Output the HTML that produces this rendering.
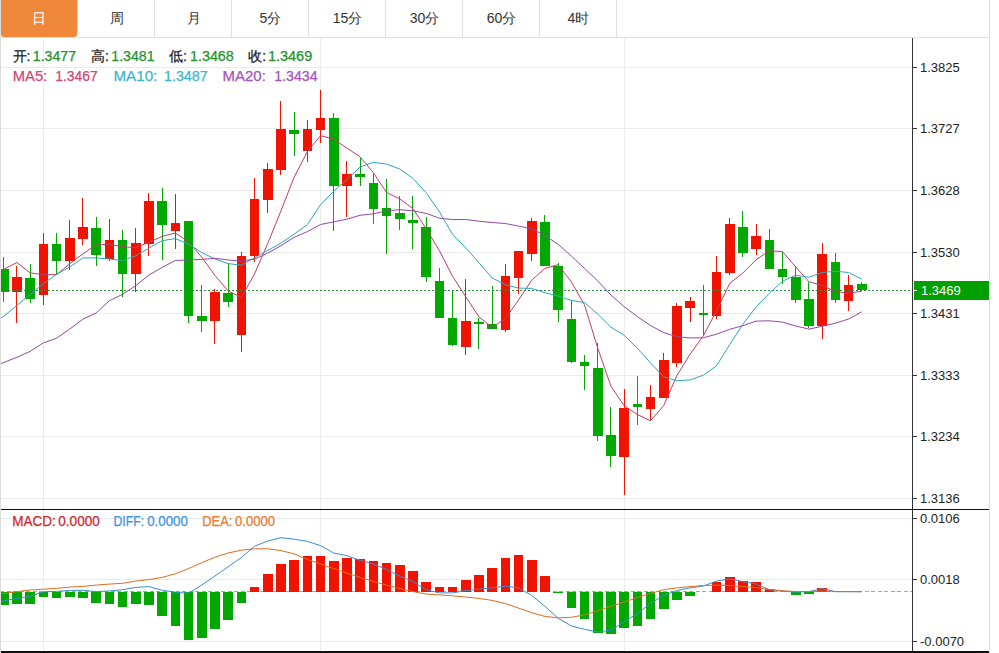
<!DOCTYPE html>
<html><head><meta charset="utf-8"><style>
html,body{margin:0;padding:0;background:#fff;}
#root{position:relative;width:999px;height:653px;overflow:hidden;background:#fff;font-family:"Liberation Sans",sans-serif;}
.tab{position:absolute;top:0;width:77px;height:37px;line-height:37px;text-align:center;font-size:14px;color:#333;}
.tab.act{background:#f0883b;color:#fff;width:76px;border-radius:0 0 3px 3px;}
.sep{position:absolute;top:0;width:1px;height:37px;background:#e0e0e0;}
.hline{position:absolute;left:0;top:37px;width:989px;height:1px;background:#e0e0e0;}
.lb{position:absolute;left:0;top:0;width:1px;height:653px;background:#dcdcdc;}
.rb{position:absolute;left:989px;top:0;width:1px;height:653px;background:#dcdcdc;}
.t{position:absolute;font-size:14px;white-space:nowrap;line-height:16px;}
</style></head><body><div id="root">
<svg width="999" height="653" viewBox="0 0 999 653" style="position:absolute;left:0;top:0" shape-rendering="crispEdges"><line x1="1" y1="67.5" x2="912" y2="67.5" stroke="#ebebeb" stroke-width="1"/><line x1="1" y1="128.5" x2="912" y2="128.5" stroke="#ebebeb" stroke-width="1"/><line x1="1" y1="190.5" x2="912" y2="190.5" stroke="#ebebeb" stroke-width="1"/><line x1="1" y1="252.5" x2="912" y2="252.5" stroke="#ebebeb" stroke-width="1"/><line x1="1" y1="313.5" x2="912" y2="313.5" stroke="#ebebeb" stroke-width="1"/><line x1="1" y1="375.5" x2="912" y2="375.5" stroke="#ebebeb" stroke-width="1"/><line x1="1" y1="436.5" x2="912" y2="436.5" stroke="#ebebeb" stroke-width="1"/><line x1="1" y1="498.5" x2="912" y2="498.5" stroke="#ebebeb" stroke-width="1"/><line x1="1" y1="518.5" x2="912" y2="518.5" stroke="#e3ecf3" stroke-width="1"/><line x1="1" y1="579.5" x2="912" y2="579.5" stroke="#e3ecf3" stroke-width="1"/><line x1="1" y1="641.5" x2="912" y2="641.5" stroke="#e3ecf3" stroke-width="1"/><line x1="43.5" y1="38" x2="43.5" y2="509" stroke="#ebebeb" stroke-width="1"/><line x1="43.5" y1="510" x2="43.5" y2="652" stroke="#e8ecef" stroke-width="1"/><line x1="320.5" y1="38" x2="320.5" y2="509" stroke="#ebebeb" stroke-width="1"/><line x1="320.5" y1="510" x2="320.5" y2="652" stroke="#e8ecef" stroke-width="1"/><line x1="624.5" y1="38" x2="624.5" y2="509" stroke="#ebebeb" stroke-width="1"/><line x1="624.5" y1="510" x2="624.5" y2="652" stroke="#e8ecef" stroke-width="1"/><rect x="3.2" y="256.5" width="1" height="45.1" fill="#00a800"/><rect x="-1.1" y="269.0" width="9.6" height="22.7" fill="#00a800"/><rect x="16.4" y="266.0" width="1" height="57.0" fill="#f01400"/><rect x="12.1" y="276.9" width="9.6" height="15.1" fill="#f01400"/><rect x="29.6" y="264.0" width="1" height="38.7" fill="#00a800"/><rect x="25.3" y="278.0" width="9.6" height="21.4" fill="#00a800"/><rect x="42.8" y="233.0" width="1" height="71.8" fill="#f01400"/><rect x="38.5" y="244.0" width="9.6" height="51.0" fill="#f01400"/><rect x="56.0" y="233.2" width="1" height="41.4" fill="#00a800"/><rect x="51.7" y="244.2" width="9.6" height="16.7" fill="#00a800"/><rect x="69.2" y="220.4" width="1" height="49.1" fill="#f01400"/><rect x="64.9" y="238.1" width="9.6" height="23.3" fill="#f01400"/><rect x="82.4" y="197.6" width="1" height="47.4" fill="#f01400"/><rect x="78.1" y="227.3" width="9.6" height="11.5" fill="#f01400"/><rect x="95.6" y="217.3" width="1" height="48.5" fill="#00a800"/><rect x="91.3" y="227.8" width="9.6" height="27.0" fill="#00a800"/><rect x="108.8" y="219.2" width="1" height="41.7" fill="#f01400"/><rect x="104.5" y="239.8" width="9.6" height="19.1" fill="#f01400"/><rect x="122.0" y="230.2" width="1" height="67.0" fill="#00a800"/><rect x="117.7" y="240.0" width="9.6" height="33.6" fill="#00a800"/><rect x="135.2" y="228.3" width="1" height="64.0" fill="#f01400"/><rect x="130.9" y="243.0" width="9.6" height="30.6" fill="#f01400"/><rect x="148.4" y="193.3" width="1" height="62.5" fill="#f01400"/><rect x="144.1" y="200.5" width="9.6" height="43.1" fill="#f01400"/><rect x="161.6" y="188.0" width="1" height="71.6" fill="#00a800"/><rect x="157.3" y="200.8" width="9.6" height="24.5" fill="#00a800"/><rect x="174.8" y="193.9" width="1" height="54.7" fill="#f01400"/><rect x="170.5" y="223.0" width="9.6" height="7.5" fill="#f01400"/><rect x="188.0" y="220.9" width="1" height="101.8" fill="#00a800"/><rect x="183.7" y="220.9" width="9.6" height="95.1" fill="#00a800"/><rect x="201.2" y="285.0" width="1" height="47.4" fill="#00a800"/><rect x="196.9" y="315.5" width="9.6" height="5.8" fill="#00a800"/><rect x="214.4" y="289.3" width="1" height="54.7" fill="#f01400"/><rect x="210.1" y="291.6" width="9.6" height="29.1" fill="#f01400"/><rect x="227.6" y="263.1" width="1" height="44.2" fill="#00a800"/><rect x="223.3" y="292.8" width="9.6" height="9.6" fill="#00a800"/><rect x="240.8" y="251.5" width="1" height="100.3" fill="#f01400"/><rect x="236.5" y="255.8" width="9.6" height="79.5" fill="#f01400"/><rect x="254.0" y="177.5" width="1" height="84.3" fill="#f01400"/><rect x="249.7" y="198.7" width="9.6" height="57.3" fill="#f01400"/><rect x="267.2" y="162.9" width="1" height="50.4" fill="#f01400"/><rect x="262.9" y="169.3" width="9.6" height="30.9" fill="#f01400"/><rect x="280.4" y="101.0" width="1" height="74.4" fill="#f01400"/><rect x="276.1" y="128.9" width="9.6" height="41.3" fill="#f01400"/><rect x="293.6" y="112.0" width="1" height="43.6" fill="#00a800"/><rect x="289.3" y="130.0" width="9.6" height="3.5" fill="#00a800"/><rect x="306.8" y="120.2" width="1" height="41.3" fill="#f01400"/><rect x="302.5" y="128.9" width="9.6" height="22.4" fill="#f01400"/><rect x="320.0" y="90.2" width="1" height="52.4" fill="#f01400"/><rect x="315.7" y="117.8" width="9.6" height="12.5" fill="#f01400"/><rect x="333.2" y="112.6" width="1" height="118.1" fill="#00a800"/><rect x="328.9" y="118.4" width="9.6" height="67.7" fill="#00a800"/><rect x="346.4" y="160.5" width="1" height="56.2" fill="#f01400"/><rect x="342.1" y="174.4" width="9.6" height="11.8" fill="#f01400"/><rect x="359.6" y="157.6" width="1" height="28.3" fill="#00a800"/><rect x="355.3" y="174.2" width="9.6" height="2.4" fill="#00a800"/><rect x="372.8" y="173.6" width="1" height="50.1" fill="#00a800"/><rect x="368.5" y="183.0" width="9.6" height="25.6" fill="#00a800"/><rect x="386.0" y="178.9" width="1" height="74.8" fill="#00a800"/><rect x="381.7" y="208.0" width="9.6" height="8.4" fill="#00a800"/><rect x="399.2" y="196.3" width="1" height="34.1" fill="#00a800"/><rect x="394.9" y="212.9" width="9.6" height="5.8" fill="#00a800"/><rect x="412.4" y="195.5" width="1" height="53.8" fill="#00a800"/><rect x="408.1" y="219.6" width="9.6" height="2.9" fill="#00a800"/><rect x="425.6" y="216.7" width="1" height="65.2" fill="#00a800"/><rect x="421.3" y="226.9" width="9.6" height="50.0" fill="#00a800"/><rect x="438.8" y="267.8" width="1" height="50.0" fill="#00a800"/><rect x="434.5" y="280.9" width="9.6" height="36.9" fill="#00a800"/><rect x="452.0" y="290.8" width="1" height="54.7" fill="#00a800"/><rect x="447.7" y="317.8" width="9.6" height="27.1" fill="#00a800"/><rect x="465.2" y="279.1" width="1" height="75.7" fill="#f01400"/><rect x="460.9" y="320.7" width="9.6" height="26.5" fill="#f01400"/><rect x="478.4" y="317.8" width="1" height="31.2" fill="#00a800"/><rect x="474.1" y="321.6" width="9.6" height="2.6" fill="#00a800"/><rect x="491.6" y="286.4" width="1" height="42.2" fill="#00a800"/><rect x="487.3" y="323.7" width="9.6" height="4.9" fill="#00a800"/><rect x="504.8" y="264.0" width="1" height="67.5" fill="#f01400"/><rect x="500.5" y="276.2" width="9.6" height="53.3" fill="#f01400"/><rect x="518.0" y="250.9" width="1" height="42.8" fill="#f01400"/><rect x="513.7" y="250.9" width="9.6" height="27.1" fill="#f01400"/><rect x="531.2" y="218.0" width="1" height="43.1" fill="#f01400"/><rect x="526.9" y="220.9" width="9.6" height="33.5" fill="#f01400"/><rect x="544.4" y="214.5" width="1" height="51.8" fill="#00a800"/><rect x="540.1" y="221.8" width="9.6" height="43.7" fill="#00a800"/><rect x="557.6" y="262.6" width="1" height="59.6" fill="#00a800"/><rect x="553.3" y="265.5" width="9.6" height="44.5" fill="#00a800"/><rect x="570.8" y="300.4" width="1" height="62.6" fill="#00a800"/><rect x="566.5" y="318.7" width="9.6" height="43.7" fill="#00a800"/><rect x="584.0" y="355.4" width="1" height="34.9" fill="#00a800"/><rect x="579.7" y="361.6" width="9.6" height="4.2" fill="#00a800"/><rect x="597.2" y="342.5" width="1" height="98.0" fill="#00a800"/><rect x="592.9" y="367.9" width="9.6" height="68.2" fill="#00a800"/><rect x="610.4" y="406.7" width="1" height="59.8" fill="#00a800"/><rect x="606.1" y="435.3" width="9.6" height="20.8" fill="#00a800"/><rect x="623.6" y="389.3" width="1" height="105.8" fill="#f01400"/><rect x="619.3" y="408.0" width="9.6" height="48.9" fill="#f01400"/><rect x="636.8" y="376.3" width="1" height="48.6" fill="#00a800"/><rect x="632.5" y="404.1" width="9.6" height="2.6" fill="#00a800"/><rect x="650.0" y="385.1" width="1" height="34.6" fill="#f01400"/><rect x="645.7" y="397.1" width="9.6" height="11.4" fill="#f01400"/><rect x="663.2" y="352.9" width="1" height="45.4" fill="#f01400"/><rect x="658.9" y="360.2" width="9.6" height="38.1" fill="#f01400"/><rect x="676.4" y="302.6" width="1" height="64.3" fill="#f01400"/><rect x="672.1" y="305.7" width="9.6" height="57.3" fill="#f01400"/><rect x="689.6" y="296.5" width="1" height="25.4" fill="#f01400"/><rect x="685.3" y="301.1" width="9.6" height="6.7" fill="#f01400"/><rect x="702.8" y="285.1" width="1" height="49.7" fill="#00a800"/><rect x="698.5" y="313.3" width="9.6" height="1.6" fill="#00a800"/><rect x="716.0" y="255.7" width="1" height="63.7" fill="#f01400"/><rect x="711.7" y="272.0" width="9.6" height="43.8" fill="#f01400"/><rect x="729.2" y="217.8" width="1" height="57.2" fill="#f01400"/><rect x="724.9" y="223.9" width="9.6" height="49.0" fill="#f01400"/><rect x="742.4" y="210.7" width="1" height="46.0" fill="#00a800"/><rect x="738.1" y="227.0" width="9.6" height="25.7" fill="#00a800"/><rect x="755.6" y="224.1" width="1" height="30.6" fill="#f01400"/><rect x="751.3" y="235.6" width="9.6" height="13.8" fill="#f01400"/><rect x="768.8" y="229.4" width="1" height="40.0" fill="#00a800"/><rect x="764.5" y="240.2" width="9.6" height="29.2" fill="#00a800"/><rect x="782.0" y="251.7" width="1" height="32.1" fill="#00a800"/><rect x="777.7" y="268.9" width="9.6" height="8.1" fill="#00a800"/><rect x="795.2" y="265.5" width="1" height="37.4" fill="#00a800"/><rect x="790.9" y="277.0" width="9.6" height="22.9" fill="#00a800"/><rect x="808.4" y="281.6" width="1" height="45.9" fill="#00a800"/><rect x="804.1" y="299.2" width="9.6" height="27.2" fill="#00a800"/><rect x="821.6" y="242.5" width="1" height="96.5" fill="#f01400"/><rect x="817.3" y="254.4" width="9.6" height="72.0" fill="#f01400"/><rect x="834.8" y="253.3" width="1" height="50.1" fill="#00a800"/><rect x="830.5" y="262.0" width="9.6" height="38.4" fill="#00a800"/><rect x="848.0" y="274.7" width="1" height="36.7" fill="#f01400"/><rect x="843.7" y="285.0" width="9.6" height="15.6" fill="#f01400"/><rect x="861.2" y="281.6" width="1" height="9.1" fill="#00a800"/><rect x="856.9" y="284.3" width="9.6" height="6.0" fill="#00a800"/><line x1="0" y1="290.5" x2="912" y2="290.5" stroke="#2b8c3a" stroke-width="1" stroke-dasharray="2,2"/><g fill="none" stroke-width="1" shape-rendering="geometricPrecision"><polyline points="-9.5,271.5 3.7,269.4 16.9,262.5 30.1,272.8 43.3,274.7 56.5,274.6 69.7,263.9 82.9,253.9 96.1,245.0 109.3,244.2 122.5,246.7 135.7,247.7 148.9,242.3 162.1,236.4 175.3,233.1 188.5,241.6 201.7,257.2 214.9,275.4 228.1,290.9 241.3,297.4 254.5,274.0 267.7,243.6 280.9,211.0 294.1,177.2 307.3,151.9 320.5,135.7 333.7,139.0 346.9,148.1 360.1,156.8 373.3,172.7 386.5,192.4 399.7,198.9 412.9,208.6 426.1,228.6 439.3,250.5 452.5,276.2 465.7,296.6 478.9,316.9 492.1,327.2 505.3,318.9 518.5,300.1 531.7,280.2 544.9,268.4 558.1,264.7 571.3,281.9 584.5,304.9 597.7,348.0 610.9,386.1 624.1,405.7 637.3,414.5 650.5,420.8 663.7,405.6 676.9,375.5 690.1,354.2 703.3,335.8 716.5,310.8 729.7,283.5 742.9,272.9 756.1,259.8 769.3,250.7 782.5,251.7 795.7,266.9 808.9,281.7 822.1,285.4 835.3,291.6 848.5,293.2 861.7,291.3" stroke="#c23c6c"/><polyline points="-9.5,324.0 3.7,316.3 16.9,305.4 30.1,294.6 43.3,283.8 56.5,274.4 69.7,267.0 82.9,257.9 96.1,257.9 109.3,259.0 122.5,260.6 135.7,255.8 148.9,248.1 162.1,240.7 175.3,238.6 188.5,244.1 201.7,252.5 214.9,258.9 228.1,263.6 241.3,265.2 254.5,257.8 267.7,250.4 280.9,243.2 294.1,234.1 307.3,224.6 320.5,204.8 333.7,191.3 346.9,179.6 360.1,167.0 373.3,162.3 386.5,164.1 399.7,169.0 412.9,178.3 426.1,192.7 439.3,211.6 452.5,234.3 465.7,247.8 478.9,262.7 492.1,277.9 505.3,284.7 518.5,288.1 531.7,288.4 544.9,292.7 558.1,296.0 571.3,300.4 584.5,302.5 597.7,314.1 610.9,327.2 624.1,335.2 637.3,348.2 650.5,362.9 663.7,376.8 676.9,380.8 690.1,379.9 703.3,375.2 716.5,365.8 729.7,344.6 742.9,324.2 756.1,307.0 769.3,293.3 782.5,281.2 795.7,275.2 808.9,277.3 822.1,272.6 835.3,271.2 848.5,272.5 861.7,279.1" stroke="#2aa8be"/><polyline points="-9.5,367.5 3.7,362.5 16.9,357.3 30.1,351.4 43.3,342.9 56.5,338.3 69.7,329.1 82.9,319.2 96.1,313.0 109.3,300.8 122.5,294.3 135.7,285.7 148.9,275.0 162.1,267.5 175.3,260.4 188.5,260.0 201.7,259.4 214.9,258.3 228.1,260.0 241.3,261.0 254.5,259.2 267.7,253.1 280.9,245.7 294.1,237.4 307.3,231.6 320.5,224.5 333.7,221.9 346.9,219.2 360.1,215.3 373.3,213.8 386.5,210.9 399.7,209.7 412.9,210.8 426.1,213.4 439.3,218.1 452.5,219.6 465.7,219.5 478.9,221.2 492.1,222.5 505.3,223.5 518.5,226.1 531.7,228.7 544.9,235.5 558.1,244.3 571.3,256.0 584.5,268.4 597.7,280.9 610.9,295.0 624.1,306.6 637.3,316.5 650.5,325.5 663.7,332.6 676.9,336.7 690.1,337.9 703.3,337.8 716.5,334.2 729.7,329.3 742.9,325.7 756.1,321.1 769.3,320.8 782.5,322.1 795.7,326.0 808.9,329.1 822.1,326.3 835.3,323.2 848.5,319.1 861.7,311.8" stroke="#9248a6"/></g><line x1="0" y1="591.7" x2="912" y2="591.7" stroke="#97a9ba" stroke-width="1" stroke-dasharray="4,2.5"/><rect x="-1.1" y="591.7" width="9.6" height="13.7" fill="#00a800"/><rect x="12.1" y="591.7" width="9.6" height="12.7" fill="#00a800"/><rect x="25.3" y="591.7" width="9.6" height="11.8" fill="#00a800"/><rect x="38.5" y="591.7" width="9.6" height="5.4" fill="#00a800"/><rect x="51.7" y="591.7" width="9.6" height="6.7" fill="#00a800"/><rect x="64.9" y="591.7" width="9.6" height="4.8" fill="#00a800"/><rect x="78.1" y="591.7" width="9.6" height="6.7" fill="#00a800"/><rect x="91.3" y="591.7" width="9.6" height="11.3" fill="#00a800"/><rect x="104.5" y="591.7" width="9.6" height="11.8" fill="#00a800"/><rect x="117.7" y="591.7" width="9.6" height="15.5" fill="#00a800"/><rect x="130.9" y="591.7" width="9.6" height="12.7" fill="#00a800"/><rect x="144.1" y="591.7" width="9.6" height="13.7" fill="#00a800"/><rect x="157.3" y="591.7" width="9.6" height="24.1" fill="#00a800"/><rect x="170.5" y="591.7" width="9.6" height="33.9" fill="#00a800"/><rect x="183.7" y="591.7" width="9.6" height="48.0" fill="#00a800"/><rect x="196.9" y="591.7" width="9.6" height="45.8" fill="#00a800"/><rect x="210.1" y="591.7" width="9.6" height="37.0" fill="#00a800"/><rect x="223.3" y="591.7" width="9.6" height="28.7" fill="#00a800"/><rect x="236.5" y="591.7" width="9.6" height="11.5" fill="#00a800"/><rect x="249.7" y="586.6" width="9.6" height="5.1" fill="#f01400"/><rect x="262.9" y="574.1" width="9.6" height="17.6" fill="#f01400"/><rect x="276.1" y="563.5" width="9.6" height="28.2" fill="#f01400"/><rect x="289.3" y="559.8" width="9.6" height="31.9" fill="#f01400"/><rect x="302.5" y="556.1" width="9.6" height="35.6" fill="#f01400"/><rect x="315.7" y="556.1" width="9.6" height="35.6" fill="#f01400"/><rect x="328.9" y="560.9" width="9.6" height="30.8" fill="#f01400"/><rect x="342.1" y="557.6" width="9.6" height="34.1" fill="#f01400"/><rect x="355.3" y="558.5" width="9.6" height="33.2" fill="#f01400"/><rect x="368.5" y="561.3" width="9.6" height="30.4" fill="#f01400"/><rect x="381.7" y="562.5" width="9.6" height="29.2" fill="#f01400"/><rect x="394.9" y="564.9" width="9.6" height="26.8" fill="#f01400"/><rect x="408.1" y="571.4" width="9.6" height="20.3" fill="#f01400"/><rect x="421.3" y="581.8" width="9.6" height="9.9" fill="#f01400"/><rect x="434.5" y="587.0" width="9.6" height="4.7" fill="#f01400"/><rect x="447.7" y="586.6" width="9.6" height="5.1" fill="#f01400"/><rect x="460.9" y="579.6" width="9.6" height="12.1" fill="#f01400"/><rect x="474.1" y="574.7" width="9.6" height="17.0" fill="#f01400"/><rect x="487.3" y="568.0" width="9.6" height="23.7" fill="#f01400"/><rect x="500.5" y="557.6" width="9.6" height="34.1" fill="#f01400"/><rect x="513.7" y="555.2" width="9.6" height="36.5" fill="#f01400"/><rect x="526.9" y="559.8" width="9.6" height="31.9" fill="#f01400"/><rect x="540.1" y="576.0" width="9.6" height="15.7" fill="#f01400"/><rect x="553.3" y="591.7" width="9.6" height="1.3" fill="#00a800"/><rect x="566.5" y="591.7" width="9.6" height="16.4" fill="#00a800"/><rect x="579.7" y="591.7" width="9.6" height="27.1" fill="#00a800"/><rect x="592.9" y="591.7" width="9.6" height="40.9" fill="#00a800"/><rect x="606.1" y="591.7" width="9.6" height="42.2" fill="#00a800"/><rect x="619.3" y="591.7" width="9.6" height="36.1" fill="#00a800"/><rect x="632.5" y="591.7" width="9.6" height="33.9" fill="#00a800"/><rect x="645.7" y="591.7" width="9.6" height="27.5" fill="#00a800"/><rect x="658.9" y="591.7" width="9.6" height="17.0" fill="#00a800"/><rect x="672.1" y="591.7" width="9.6" height="8.2" fill="#00a800"/><rect x="685.3" y="591.7" width="9.6" height="4.1" fill="#00a800"/><rect x="711.7" y="582.3" width="9.6" height="9.4" fill="#f01400"/><rect x="724.9" y="576.8" width="9.6" height="14.9" fill="#f01400"/><rect x="738.1" y="580.8" width="9.6" height="10.9" fill="#f01400"/><rect x="751.3" y="582.1" width="9.6" height="9.6" fill="#f01400"/><rect x="764.5" y="589.2" width="9.6" height="2.5" fill="#f01400"/><rect x="790.9" y="591.7" width="9.6" height="2.8" fill="#00a800"/><rect x="804.1" y="591.7" width="9.6" height="2.5" fill="#00a800"/><rect x="817.3" y="587.6" width="9.6" height="4.1" fill="#f01400"/><g fill="none" stroke-width="1" shape-rendering="geometricPrecision"><polyline points="-9.5,603.0 3.7,600.9 16.9,598.4 30.1,596.4 43.3,591.8 56.5,591.4 69.7,590.4 82.9,590.3 96.1,591.6 109.3,591.0 122.5,589.7 135.7,587.4 148.9,586.6 162.1,590.3 175.3,592.1 188.5,593.4 201.7,585.1 214.9,576.0 228.1,566.8 241.3,557.6 254.5,546.2 267.7,541.0 280.9,537.7 294.1,539.2 307.3,541.4 320.5,545.6 333.7,553.0 346.9,555.7 360.1,560.3 373.3,564.0 386.5,569.5 399.7,576.0 412.9,581.5 426.1,589.7 439.3,592.9 452.5,592.9 465.7,590.7 478.9,589.2 492.1,587.9 505.3,586.1 518.5,587.9 531.7,595.3 544.9,606.3 558.1,618.2 571.3,626.0 584.5,629.3 597.7,632.0 610.9,630.2 624.1,622.0 637.3,613.5 650.5,603.5 663.7,595.5 676.9,590.5 690.1,587.9 703.3,586.1 716.5,581.1 729.7,578.9 742.9,581.6 756.1,584.0 769.3,589.6 782.5,591.2 795.7,592.0 808.9,591.7 822.1,588.5 835.3,591.7 848.5,591.7 861.7,591.7" stroke="#3a8cd6"/><polyline points="-9.5,595.0 3.7,593.5 16.9,591.6 30.1,590.0 43.3,589.2 56.5,588.4 69.7,587.1 82.9,586.4 96.1,585.1 109.3,584.1 122.5,583.3 135.7,581.1 148.9,579.6 162.1,577.4 175.3,573.8 188.5,568.6 201.7,562.7 214.9,557.2 228.1,553.0 241.3,550.2 254.5,548.8 267.7,548.8 280.9,550.6 294.1,553.9 307.3,559.4 320.5,564.0 333.7,568.6 346.9,573.2 360.1,577.4 373.3,581.5 386.5,585.1 399.7,588.5 412.9,591.6 426.1,594.0 439.3,594.9 452.5,595.8 465.7,597.1 478.9,598.4 492.1,600.4 505.3,603.5 518.5,608.1 531.7,612.7 544.9,616.4 558.1,617.9 571.3,617.3 584.5,614.9 597.7,610.9 610.9,606.3 624.1,602.1 637.3,597.6 650.5,593.4 663.7,589.7 676.9,587.9 690.1,586.6 703.3,585.5 716.5,585.1 729.7,585.5 742.9,586.5 756.1,587.5 769.3,589.5 782.5,590.8 795.7,591.5 808.9,591.5 822.1,591.0 835.3,591.5 848.5,591.6 861.7,591.7" stroke="#e06c1e"/></g><line x1="912.5" y1="38" x2="912.5" y2="653" stroke="#333" stroke-width="1"/><line x1="1" y1="509.5" x2="989" y2="509.5" stroke="#111" stroke-width="1.2"/><line x1="1" y1="652" x2="989" y2="652" stroke="#111" stroke-width="1.6"/><rect x="914" y="281" width="75" height="19" fill="#00a000"/><line x1="913" y1="67.5" x2="917" y2="67.5" stroke="#333" stroke-width="1"/><text x="920" y="71.5" font-family="Liberation Sans" font-size="13" fill="#222">1.3825</text><line x1="913" y1="128.5" x2="917" y2="128.5" stroke="#333" stroke-width="1"/><text x="920" y="132.5" font-family="Liberation Sans" font-size="13" fill="#222">1.3727</text><line x1="913" y1="190.5" x2="917" y2="190.5" stroke="#333" stroke-width="1"/><text x="920" y="194.5" font-family="Liberation Sans" font-size="13" fill="#222">1.3628</text><line x1="913" y1="252.5" x2="917" y2="252.5" stroke="#333" stroke-width="1"/><text x="920" y="256.5" font-family="Liberation Sans" font-size="13" fill="#222">1.3530</text><line x1="913" y1="313.5" x2="917" y2="313.5" stroke="#333" stroke-width="1"/><text x="920" y="317.5" font-family="Liberation Sans" font-size="13" fill="#222">1.3431</text><line x1="913" y1="375.5" x2="917" y2="375.5" stroke="#333" stroke-width="1"/><text x="920" y="379.5" font-family="Liberation Sans" font-size="13" fill="#222">1.3333</text><line x1="913" y1="436.5" x2="917" y2="436.5" stroke="#333" stroke-width="1"/><text x="920" y="440.5" font-family="Liberation Sans" font-size="13" fill="#222">1.3234</text><line x1="913" y1="498.5" x2="917" y2="498.5" stroke="#333" stroke-width="1"/><text x="920" y="502.5" font-family="Liberation Sans" font-size="13" fill="#222">1.3136</text><line x1="913" y1="518.5" x2="917" y2="518.5" stroke="#333" stroke-width="1"/><text x="920" y="522.5" font-family="Liberation Sans" font-size="13" fill="#222">0.0106</text><line x1="913" y1="579.5" x2="917" y2="579.5" stroke="#333" stroke-width="1"/><text x="920" y="583.5" font-family="Liberation Sans" font-size="13" fill="#222">0.0018</text><line x1="913" y1="641.5" x2="917" y2="641.5" stroke="#333" stroke-width="1"/><text x="920" y="645.5" font-family="Liberation Sans" font-size="13" fill="#222">-0.0070</text><line x1="913" y1="290.5" x2="917" y2="290.5" stroke="#fff" stroke-width="1"/><text x="921" y="295" font-family="Liberation Sans" font-size="13" fill="#fff">1.3469</text></svg>
<div class="lb"></div><div class="rb"></div><div class="hline"></div>
<div class="tab act" style="left:1px">日</div><div class="tab" style="left:78px">周</div><div class="sep" style="left:77px"></div><div class="tab" style="left:155px">月</div><div class="sep" style="left:154px"></div><div class="tab" style="left:232px">5分</div><div class="sep" style="left:231px"></div><div class="tab" style="left:309px">15分</div><div class="sep" style="left:308px"></div><div class="tab" style="left:386px">30分</div><div class="sep" style="left:385px"></div><div class="tab" style="left:463px">60分</div><div class="sep" style="left:462px"></div><div class="tab" style="left:540px">4时</div><div class="sep" style="left:539px"></div><div class="sep" style="left:616px"></div>
<svg width="999" height="653" style="position:absolute;left:0;top:0" font-family="Liberation Sans" font-size="14">
<text x="12.5" y="61" fill="#222" stroke="#222" stroke-width="0.25">开:</text><text x="32.8" y="61" fill="#22922b" stroke="#22922b" stroke-width="0.25" textLength="43.2" lengthAdjust="spacingAndGlyphs">1.3477</text><text x="91" y="61" fill="#222" stroke="#222" stroke-width="0.25">高:</text><text x="111.3" y="61" fill="#22922b" stroke="#22922b" stroke-width="0.25" textLength="43.2" lengthAdjust="spacingAndGlyphs">1.3481</text><text x="168.9" y="61" fill="#222" stroke="#222" stroke-width="0.25">低:</text><text x="190" y="61" fill="#22922b" stroke="#22922b" stroke-width="0.25" textLength="43.8" lengthAdjust="spacingAndGlyphs">1.3468</text><text x="248.2" y="61" fill="#222" stroke="#222" stroke-width="0.25">收:</text><text x="268" y="61" fill="#22922b" stroke="#22922b" stroke-width="0.25" textLength="44.2" lengthAdjust="spacingAndGlyphs">1.3469</text><text x="12.8" y="80.5" fill="#d0457a" stroke="#d0457a" stroke-width="0.25" textLength="34.4" lengthAdjust="spacingAndGlyphs">MA5:</text><text x="55.3" y="80.5" fill="#d0457a" stroke="#d0457a" stroke-width="0.25" textLength="42.4" lengthAdjust="spacingAndGlyphs">1.3467</text><text x="113.5" y="80.5" fill="#3ab6cf" stroke="#3ab6cf" stroke-width="0.25" textLength="43.8" lengthAdjust="spacingAndGlyphs">MA10:</text><text x="164" y="80.5" fill="#3ab6cf" stroke="#3ab6cf" stroke-width="0.25" textLength="43.7" lengthAdjust="spacingAndGlyphs">1.3487</text><text x="222.5" y="80.5" fill="#a452bb" stroke="#a452bb" stroke-width="0.25" textLength="43.3" lengthAdjust="spacingAndGlyphs">MA20:</text><text x="274.3" y="80.5" fill="#a452bb" stroke="#a452bb" stroke-width="0.25" textLength="43.3" lengthAdjust="spacingAndGlyphs">1.3434</text><text x="12.3" y="525.7" fill="#d0282e" stroke="#d0282e" stroke-width="0.25" textLength="43.6" lengthAdjust="spacingAndGlyphs">MACD:</text><text x="58.3" y="525.7" fill="#d0282e" stroke="#d0282e" stroke-width="0.25" textLength="41.5" lengthAdjust="spacingAndGlyphs">0.0000</text><text x="113.5" y="525.7" fill="#3d94de" stroke="#3d94de" stroke-width="0.25" textLength="30.6" lengthAdjust="spacingAndGlyphs">DIFF:</text><text x="147.2" y="525.7" fill="#3d94de" stroke="#3d94de" stroke-width="0.25" textLength="40.7" lengthAdjust="spacingAndGlyphs">0.0000</text><text x="202.3" y="525.7" fill="#ea7a2a" stroke="#ea7a2a" stroke-width="0.25" textLength="30.1" lengthAdjust="spacingAndGlyphs">DEA:</text><text x="235.1" y="525.7" fill="#ea7a2a" stroke="#ea7a2a" stroke-width="0.25" textLength="40" lengthAdjust="spacingAndGlyphs">0.0000</text>
</svg>
</div></body></html>
